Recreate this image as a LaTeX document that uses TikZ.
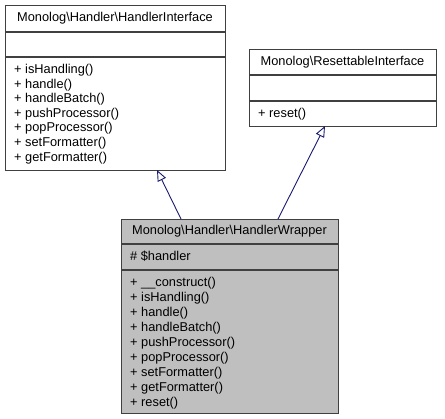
\documentclass[tikz,border=0pt]{standalone}
\usepackage{fontspec}
\setmainfont{Liberation Sans}
\usetikzlibrary{arrows.meta}
\definecolor{boxgray}{HTML}{404040}
\definecolor{wrapfill}{HTML}{BFBFBF}
\definecolor{edgeblue}{HTML}{191970}
\begin{document}
\begin{tikzpicture}[x=1pt,y=-1pt,
  umlbox/.style={draw=boxgray, line width=1.2pt, inner sep=0pt, anchor=north west},
  sepline/.style={draw=boxgray, line width=1.2pt},
  txt/.style={font=\fontsize{12.8}{14}\selectfont, inner sep=0pt},
  inherit/.style={draw=edgeblue, line width=0.9pt, -{Triangle[open, length=11pt, width=9pt]}}]
\useasboundingbox (0,0) rectangle (445,419);
% Box 1: HandlerInterface
\node[umlbox, minimum width=220pt, minimum height=165pt] (hi) at (5,5) {};
\draw[sepline] (5,32) -- (225,32);
\draw[sepline] (5,57) -- (225,57);
\node[txt, anchor=center] (hititle) at (115,18.5) {Monolog\textbackslash Handler\textbackslash HandlerInterface};
\foreach \m [count=\i from 0] in {isHandling(),handle(),handleBatch(),pushProcessor(),popProcessor(),setFormatter(),getFormatter()}
  \node[txt, anchor=base west] (him\i) at (14,{69+14.6*\i+4.5}) {+ \m};
% Box 2: ResettableInterface
\node[umlbox, minimum width=187pt, minimum height=77pt] (ri) at (249,49) {};
\draw[sepline] (249,75) -- (436,75);
\draw[sepline] (249,101) -- (436,101);
\node[txt, anchor=center] (rititle) at (342.5,62) {Monolog\textbackslash ResettableInterface};
\node[txt, anchor=base west] (rim0) at (258,{113+4.5}) {+ reset()};
% Box 3: HandlerWrapper
\node[umlbox, fill=wrapfill, minimum width=217pt, minimum height=194pt] (hw) at (121,219) {};
\draw[sepline] (121,244) -- (338,244);
\draw[sepline] (121,270) -- (338,270);
\node[txt, anchor=center] (hwtitle) at (229.5,231.5) {Monolog\textbackslash Handler\textbackslash HandlerWrapper};
\node[txt, anchor=base west] (hwattr) at (130,{256.5+4.5}) {\# \$handler};
\foreach \m [count=\i from 0] in {\_\_construct(),isHandling(),handle(),handleBatch(),pushProcessor(),popProcessor(),setFormatter(),getFormatter(),reset()}
  \node[txt, anchor=base west] (hwm\i) at (130,{282+15*\i+4.5}) {+ \m};
% Connectors
\coordinate (a1s) at (181,219);
\coordinate (a1e) at (157,170);
\coordinate (a2s) at (278,219);
\coordinate (a2e) at (325,126);
\draw[inherit] (a1s) -- (a1e);
\draw[inherit] (a2s) -- (a2e);
\end{tikzpicture}
\end{document}
